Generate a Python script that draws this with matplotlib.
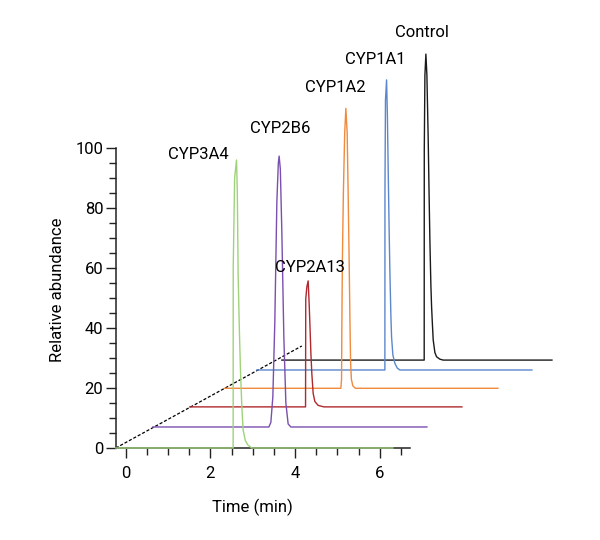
import matplotlib
matplotlib.use("Agg")
import matplotlib.pyplot as plt
from matplotlib.ticker import FixedLocator

plt.rcParams['font.family'] = ['Roboto', 'DejaVu Sans']

# ---- data (time in min on the shared time axis, intensity above own baseline) ----
names = ["Control", "CYP1A1", "CYP1A2", "CYP2A13", "CYP2B6", "CYP3A4"]
colors = ["#1a1a1a", "#5b87cc", "#f08a3c", "#b0282e", "#7a4fae", "#9fd27a"]
baselines = [29.3, 26.0, 19.9, 13.7, 7.0, 0.0]

control_t = [3.688, 7.052, 7.054, 7.069, 7.092, 7.116, 7.147, 7.168, 7.187, 7.210,
             7.227, 7.246, 7.265, 7.305, 7.345, 7.423, 7.501, 10.071]
control_i = [0, 0, 70, 95, 102, 95, 73.4, 55, 39.7, 25, 17.7, 12, 6.7, 2.5, 1.1, 0.3, 0, 0]

cyp1a1_t = [3.097, 6.123, 6.125, 6.137, 6.163, 6.182, 6.201, 6.222, 6.241, 6.265,
            6.281, 6.312, 6.359, 6.418, 6.478, 9.598]
cyp1a1_i = [0, 0, 60, 90, 96.7, 85, 67, 48, 33, 18, 11, 5, 2.2, 0.6, 0, 0]

cyp1a2_t = [2.340, 5.083, 5.099, 5.106, 5.118, 5.142, 5.173, 5.201, 5.232, 5.255,
            5.279, 5.298, 5.312, 5.331, 5.366, 5.426, 8.794]
cyp1a2_i = [0, 0, 3, 20, 42, 65, 85, 93.3, 85, 65, 42, 22, 9, 3, 0.8, 0, 0]

cyp2a13_t = [1.513, 4.248, 4.253, 4.279, 4.310, 4.333, 4.355, 4.374, 4.397, 4.428,
             4.468, 4.546, 4.681, 7.943]
cyp2a13_i = [0, 0, 36, 40, 42, 34.5, 26, 18, 11, 4.5, 1.8, 0.5, 0, 0]

cyp2b6_t = [0.638, 3.381, 3.428, 3.475, 3.522, 3.570, 3.605, 3.624, 3.652, 3.688,
            3.735, 3.783, 3.837, 3.901, 7.116]
cyp2b6_i = [0, 0, 1.5, 10, 35, 75, 88, 90.3, 86, 65, 30, 8, 1, 0, 0]

cyp3a4_t = [-0.236, 2.537, 2.539, 2.572, 2.617, 2.636, 2.655, 2.683, 2.712, 2.742,
            2.773, 2.825, 2.884, 2.979, 6.312]
cyp3a4_i = [0, 0, 60, 90, 96, 85, 58, 40, 25, 14, 6, 2.5, 1, 0, 0]

traces_t = [control_t, cyp1a1_t, cyp1a2_t, cyp2a13_t, cyp2b6_t, cyp3a4_t]
traces_i = [control_i, cyp1a1_i, cyp1a2_i, cyp2a13_i, cyp2b6_i, cyp3a4_i]

# perspective guide (dashed)
guide_t = [-0.236, 4.16]
guide_y = [0, 34]

xticks = [0, 2, 4, 6]
xminor = [0.5, 1, 1.5, 2.5, 3, 3.5, 4.5, 5, 5.5, 6.5]
yticks = [0, 20, 40, 60, 80, 100]
yminor = [v for v in range(5, 100, 5) if v % 20 != 0]

# ---- figure ----
fig = plt.figure(figsize=(6, 5.4), dpi=100)
ax = fig.add_axes([0.193, 0.1704, 0.736, 0.75])
ax.set_xlim(-0.236, 10.2)
ax.set_ylim(0, 135)

for t, inten, base, col in zip(traces_t, traces_i, baselines, colors):
    ax.plot(t, [v + base for v in inten], color=col, lw=1.0, clip_on=False,
            zorder=3, solid_joinstyle='round')

ax.plot(guide_t, guide_y, color='black', lw=0.9, ls=(0, (2.5, 1.5)), zorder=2,
        clip_on=False)

# peak labels
label_pos_t = [7.0, 5.89, 4.94, 4.35, 3.64, 1.72]
label_pos_y = [138.5, 129.5, 120, 60, 106.5, 97.7]
for name, lt, ly in zip(names, label_pos_t, label_pos_y):
    ax.text(lt, ly, name, ha='center', va='center', fontsize=12, clip_on=False)

# axes styling
for s in ['top', 'right']:
    ax.spines[s].set_visible(False)
ax.spines['left'].set_bounds(0, 100)
ax.spines['bottom'].set_bounds(-0.236, 6.71)
for s in ['left', 'bottom']:
    ax.spines[s].set_linewidth(1.1)
    ax.spines[s].set_color('#222222')

ax.xaxis.set_major_locator(FixedLocator(xticks))
ax.yaxis.set_major_locator(FixedLocator(yticks))
ax.xaxis.set_minor_locator(FixedLocator(xminor))
ax.yaxis.set_minor_locator(FixedLocator(yminor))
ax.tick_params(axis='both', which='major', length=7, width=1.0, labelsize=12,
               direction='out', color='#222222', pad=2)
ax.tick_params(axis='x', which='major', pad=6)
ax.tick_params(axis='both', which='minor', length=5, width=1.0,
               direction='out', color='#222222')

fig.text(252 / 600, 1 - 507 / 540, "Time (min)", ha='center', va='center', fontsize=12)
fig.text(58 / 600, 1 - 290 / 540, "Relative abundance", ha='center', va='center',
         rotation=90, fontsize=12)

fig.savefig("out.png", dpi=100)
